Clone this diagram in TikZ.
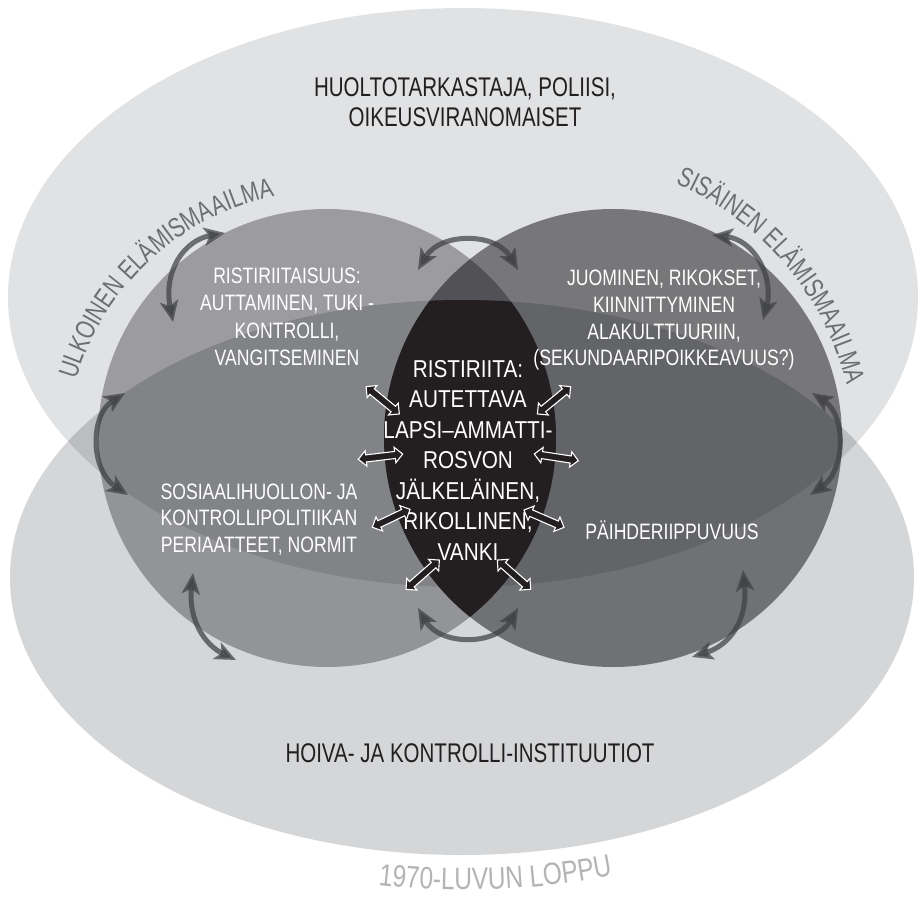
\documentclass[tikz,border=0pt]{standalone}
\usepackage{fontspec}
\usetikzlibrary{arrows.meta,shapes.arrows,decorations.text}
\newfontfamily\cfA{Liberation Sans}[FakeStretch=0.76]
\newfontfamily\cfB{Liberation Sans}[FakeStretch=0.79]
\newfontfamily\cfC{Liberation Sans}[FakeStretch=0.85]
\definecolor{topell}{HTML}{E1E2E3}
\definecolor{botell}{HTML}{D5D6D8}
\definecolor{leftc}{HTML}{B1B1B4}
\definecolor{rightc}{HTML}{87878A}
\definecolor{lensc}{HTML}{231F20}
\definecolor{txtdark}{HTML}{231F20}
\definecolor{arcgray}{HTML}{6D6E71}
\definecolor{yeargray}{HTML}{B3B4B6}
\definecolor{arrowc}{HTML}{3F4042}
\begin{document}
\begin{tikzpicture}[x=1pt,y=-1pt,
  darklbl/.style={text=txtdark, align=center, inner sep=0pt, font=\cfA\fontsize{27}{30}\selectfont},
  whitelbl/.style={text=white, align=center, inner sep=0pt, font=\cfB\fontsize{22.3}{27.5}\selectfont},
  lenslbl/.style={text=white, align=center, inner sep=0pt, font=\cfC\fontsize{24.4}{30.5}\selectfont},
  bigarrow/.style={draw=arrowc, line width=5pt, opacity=0.72,
     {Stealth[length=21pt,width=18pt,inset=5pt]}-{Stealth[length=21pt,width=18pt,inset=5pt]}},
  innerarrow/.style={double arrow, draw=white, fill=lensc, line width=1.1pt,
     inner sep=3pt, double arrow head extend=4.2pt, minimum height=#1, anchor=center}
]
\useasboundingbox (0,0) rectangle (920,896);
\fill[white] (0,0) rectangle (920,896);

% big ellipses and circles (multiplied)
\begin{scope}[blend mode=multiply]
  \fill[topell] (463,297.5) ellipse[x radius=455, y radius=289.5];
  \fill[botell] (462,577.5) ellipse[x radius=452, y radius=277.5];
  \fill[leftc] (327,438) circle[radius=229];
  \fill[rightc] (613,438) circle[radius=229];
\end{scope}
% black lens
\begin{scope}
  \clip (327,438) circle[radius=229];
  \clip (613,438) circle[radius=229];
  \fill[lensc] (462,577.5) ellipse[x radius=452, y radius=277.5];
\end{scope}

% curved texts
\path[decorate, decoration={text along path, text align=center, text color=arcgray,
   text={|\cfA\fontsize{27.5}{30}\selectfont|ULKOINEN ELÄMISMAAILMA}}]
   (331,456) ++(-172:266) arc[start angle=-172, end angle=-93.6, radius=266];
\path[decorate, decoration={text along path, text align=center, text color=arcgray,
   text={|\cfA\fontsize{27.5}{30}\selectfont|SISÄINEN ELÄMISMAAILMA}}]
   (560,455) ++(-76:295) arc[start angle=-76, end angle=-4.7, radius=295];
\path[decorate, decoration={text along path, text align=center, text color=yeargray,
   text={|\cfB\fontsize{31}{34}\selectfont|1970-LUVUN LOPPU}}]
   (465,120) ++(102:770) arc[start angle=102, end angle=73.4, radius=770];

% labels
\node[darklbl] (huolto) at (465,102.4) {HUOLTOTARKASTAJA, POLIISI,\\OIKEUSVIRANOMAISET};
\node[darklbl, anchor=base] (hoiva) at (470,762) {HOIVA- JA KONTROLLI-INSTITUUTIOT};
\node[whitelbl] (ristiriitaisuus) at (287,316.6) {RISTIRIITAISUUS:\\AUTTAMINEN, TUKI -\\KONTROLLI,\\VANGITSEMINEN};
\node[whitelbl, font=\cfB\fontsize{22.3}{26.7}\selectfont] (juominen) at (664,320.3) {JUOMINEN, RIKOKSET,\\KIINNITTYMINEN\\ALAKULTTUURIIN,\\(SEKUNDAARIPOIKKEAVUUS?)};
\node[whitelbl, font=\cfB\fontsize{22.3}{26.5}\selectfont] (sosiaali) at (259,519.5) {SOSIAALIHUOLLON- JA\\KONTROLLIPOLITIIKAN\\PERIAATTEET, NORMIT};
\node[whitelbl, anchor=base] (paihde) at (672,539) {PÄIHDERIIPPUVUUS};
\node[lenslbl] (ristiriita) at (468,460.3) {RISTIRIITA:\\AUTETTAVA\\LAPSI–AMMATTI-\\ROSVON\\JÄLKELÄINEN,\\RIKOLLINEN,\\VANKI};

% inner double arrows
\node[innerarrow=43pt, rotate=-39.4] (ia1) at (382.7,400.3) {};
\node[innerarrow=43pt, rotate=39.4] (ia2) at (554,400.3) {};
\node[innerarrow=44.7pt, rotate=6.8] (ia3) at (380.5,456.7) {};
\node[innerarrow=44.5pt, rotate=-8.7] (ia4) at (556.3,457.3) {};
\node[innerarrow=41.8pt, rotate=25.5] (ia5) at (391.2,518.3) {};
\node[innerarrow=43.6pt, rotate=-23.4] (ia6) at (544,518.7) {};
\node[innerarrow=44.4pt, rotate=41.3] (ia7) at (422.7,574.7) {};
\node[innerarrow=44.4pt, rotate=-41.3] (ia8) at (514,574.7) {};

% outer curved double arrows
\coordinate (tcA) at (418,270); \coordinate (tcB) at (518,270);
\coordinate (tlA) at (173,322); \coordinate (tlB) at (225,233);
\coordinate (trA) at (712,235); \coordinate (trB) at (763,320);
\coordinate (mlA) at (125,393); \coordinate (mlB) at (128,495);
\coordinate (mrA) at (812,393); \coordinate (mrB) at (810,495);
\coordinate (blA) at (193,573); \coordinate (blB) at (236,660);
\coordinate (brA) at (743,570); \coordinate (brB) at (692,657);
\coordinate (bcA) at (418,608); \coordinate (bcB) at (518,608);
\draw[bigarrow] (tcA) .. controls (440,232) and (496,232) .. (tcB);
\draw[bigarrow] (tlA) .. controls (163,270) and (185,240) .. (tlB);
\draw[bigarrow] (trA) .. controls (755,240) and (774,278) .. (trB);
\draw[bigarrow] (mlA) .. controls (90,415) and (90,470) .. (mlB);
\draw[bigarrow] (mrA) .. controls (846,415) and (846,470) .. (mrB);
\draw[bigarrow] (blA) .. controls (188,620) and (205,645) .. (blB);
\draw[bigarrow] (brA) .. controls (748,620) and (730,645) .. (brB);
\draw[bigarrow] (bcA) .. controls (440,646) and (496,646) .. (bcB);
\end{tikzpicture}
\end{document}
